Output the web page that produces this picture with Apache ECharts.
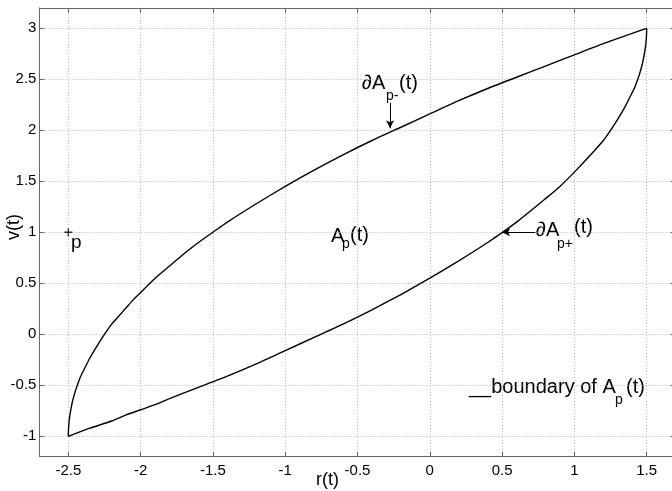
<!DOCTYPE html>
<html>
<head>
<meta charset="utf-8">
<script src="https://cdn.jsdelivr.net/npm/echarts@6/dist/echarts.min.js"></script>
<style>
  html, body { margin: 0; padding: 0; background: #fff; }
  #chart { width: 672px; height: 491px; }
</style>
</head>
<body>
<div id="chart"></div>
<script>
// upper boundary dA_p-(t)
const upperR = [-2.5, -2.499, -2.495, -2.49, -2.48, -2.47, -2.45, -2.42, -2.4, -2.35, -2.3, -2.25, -2.2, -2.15, -2.1, -2.05, -2.0, -1.9, -1.8, -1.7, -1.6, -1.5, -1.4, -1.2, -1.0, -0.8, -0.6, -0.4, -0.2, 0, 0.2, 0.4, 0.6, 0.8, 1.0, 1.2, 1.4, 1.5]
const upperV = [-1, -0.94, -0.86, -0.8, -0.72, -0.65, -0.55, -0.43, -0.37, -0.23, -0.11, 0.0, 0.10, 0.18, 0.26, 0.34, 0.41, 0.55, 0.67, 0.79, 0.90, 1.0, 1.10, 1.28, 1.45, 1.61, 1.76, 1.90, 2.03, 2.16, 2.29, 2.41, 2.52, 2.63, 2.74, 2.85, 2.95, 3.0]
// lower boundary dA_p+(t)
const lowerR = [-2.5, -2.35, -2.2, -2.1, -2.0, -1.9, -1.8, -1.6, -1.4, -1.2, -1.0, -0.8, -0.6, -0.4, -0.2, 0, 0.2, 0.4, 0.6, 0.8, 0.9, 1.0, 1.1, 1.2, 1.25, 1.3, 1.35, 1.4, 1.42, 1.45, 1.47, 1.48, 1.49, 1.495, 1.499, 1.5]
const lowerV = [-1, -0.92, -0.85, -0.79, -0.74, -0.69, -0.63, -0.52, -0.41, -0.29, -0.16, -0.03, 0.10, 0.24, 0.39, 0.55, 0.72, 0.90, 1.10, 1.33, 1.45, 1.59, 1.74, 1.90, 2.0, 2.11, 2.23, 2.37, 2.43, 2.55, 2.65, 2.72, 2.80, 2.86, 2.94, 3.0]
// point p
const pointP = [-2.5, 1]
// arrows [from, to]
const arrows = [
  [[-0.275, 2.27], [-0.275, 2.02]],
  [[0.73, 1.0], [0.5, 1.0]],
]
const xTicks = [-2.5, -2, -1.5, -1, -0.5, 0, 0.5, 1, 1.5]
const yTicks = [-1, -0.5, 0, 0.5, 1, 1.5, 2, 2.5, 3]

const FONT = '"Liberation Sans", Arial, Helvetica, sans-serif'
const frameColor = '#666'
const zip = (a, b) => a.map((v, i) => [v, b[i]])

function txt (str, x, y, size, extra) {
  return Object.assign({
    type: 'text',
    x: x,
    y: y,
    style: {
      text: str,
      font: size + 'px ' + FONT,
      fill: '#000',
      verticalAlign: 'middle',
      align: 'left',
    },
  }, extra || {})
}

const chart = echarts.init(document.getElementById('chart'), null, { renderer: 'canvas' })

const axisCommon = {
  type: 'value',
  axisLine: { show: true, onZero: false, lineStyle: { color: frameColor, width: 1 } },
  axisTick: { show: true, inside: true, length: 5, lineStyle: { color: frameColor } },
}

chart.setOption({
  animation: false,
  grid: {
    left: 39.4,
    right: -3.6,
    top: 7.9,
    bottom: 34.3,
    outerBoundsMode: 'none',
  },
  xAxis: [
    Object.assign({}, axisCommon, {
      position: 'bottom',
      min: -2.7,
      max: 1.7,
      axisTick: Object.assign({}, axisCommon.axisTick, { customValues: xTicks }),
      axisLabel: { customValues: xTicks, margin: 7, fontSize: 15, color: '#000', fontFamily: FONT },
      splitLine: { show: true, lineStyle: { color: '#b4b4b4', type: [1, 2], width: 1 } },
    }),
    Object.assign({}, axisCommon, {
      position: 'top',
      min: -2.7,
      max: 1.7,
      axisTick: Object.assign({}, axisCommon.axisTick, { customValues: xTicks }),
      axisLabel: { show: false },
      splitLine: { show: false },
    }),
  ],
  yAxis: [
    Object.assign({}, axisCommon, {
      position: 'left',
      min: -1.2,
      max: 3.2,
      axisTick: Object.assign({}, axisCommon.axisTick, { customValues: yTicks }),
      axisLabel: { customValues: yTicks, margin: 3, fontSize: 15, color: '#000', fontFamily: FONT },
      splitLine: { show: true, lineStyle: { color: '#b4b4b4', type: [1, 2], width: 1 } },
    }),
    Object.assign({}, axisCommon, {
      position: 'right',
      min: -1.2,
      max: 3.2,
      axisTick: Object.assign({}, axisCommon.axisTick, { customValues: yTicks }),
      axisLabel: { show: false },
      splitLine: { show: false },
    }),
  ],
  series: [
    {
      name: 'upper',
      type: 'line',
      data: zip(upperR, upperV),
      showSymbol: false,
      symbol: 'none',
      smooth: 0.2,
      lineStyle: { color: '#000', width: 1.4 },
      markLine: {
        silent: true,
        symbol: ['none', 'arrow'],
        symbolSize: [6, 8],
        label: { show: false },
        lineStyle: { color: '#000', width: 1, type: 'solid' },
        data: arrows.map(a => [{ coord: a[0] }, { coord: a[1] }]),
      },
    },
    {
      name: 'lower',
      type: 'line',
      data: zip(lowerR, lowerV),
      showSymbol: false,
      symbol: 'none',
      smooth: 0.2,
      lineStyle: { color: '#000', width: 1.4 },
    },
    {
      name: 'p',
      type: 'scatter',
      data: [pointP],
      symbol: 'path://M3.3,0h1.4v3.3h3.3v1.4h-3.3v3.3h-1.4v-3.3h-3.3v-1.4h3.3z',
      symbolSize: 8,
      itemStyle: { color: '#000' },
    },
  ],
  graphic: [
    // dA_p-(t)
    txt('\u2202A', 362, 83, 20),
    txt('p-', 386, 96, 14),
    txt('(t)', 399, 83, 20),
    // A_p(t)
    txt('A', 331, 236, 20),
    txt('p', 342, 244, 14),
    txt('(t)', 350, 235, 20),
    // dA_p+(t)
    txt('\u2202A', 536, 230, 20),
    txt('p+', 557, 244, 14),
    txt('(t)', 574, 227, 20),
    // p label
    txt('p', 71, 243, 19),
    // boundary note
    txt('__boundary of A', 469, 387, 20),
    txt('p', 615, 400, 14),
    txt('(t)', 626, 387, 20),
    // axis names
    txt('r(t)', 316, 480, 18),
    txt('v(t)', 14, 227, 18, {
      rotation: Math.PI / 2,
      style: { text: 'v(t)', font: '18px ' + FONT, fill: '#000', align: 'center', verticalAlign: 'middle' },
    }),
  ],
})
</script>
</body>
</html>
